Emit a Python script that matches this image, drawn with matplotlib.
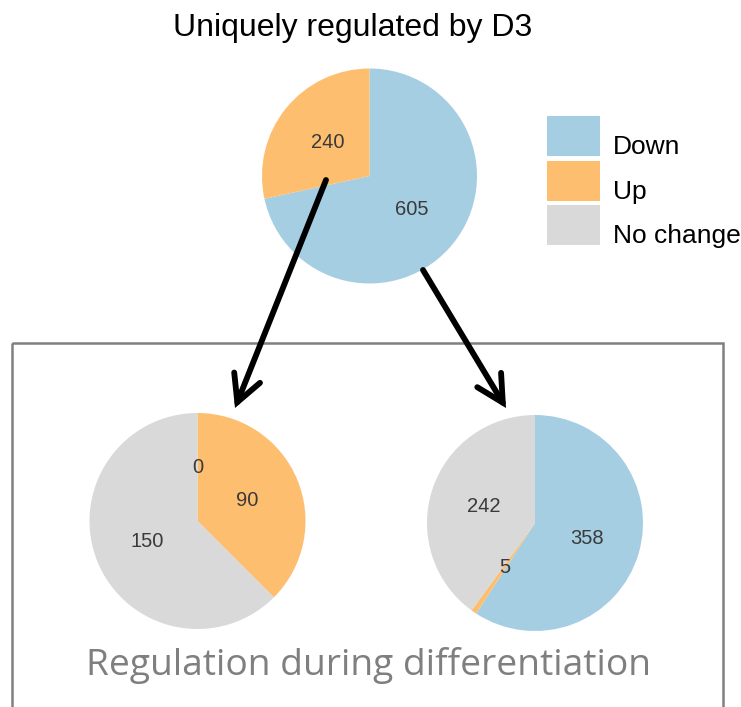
import matplotlib.pyplot as plt
from matplotlib.patches import Rectangle, FancyArrowPatch

# data
categories = ['Down', 'Up', 'No change']
colors = ['#a6cee3', '#fdbf6f', '#d9d9d9']
top_values = [605, 240, 0]
left_values = [0, 90, 150]
right_values = [358, 5, 242]

W, H = 741, 707
fig = plt.figure(figsize=(W / 100, H / 100), dpi=100)
plt.rcParams['font.family'] = ['Liberation Sans', 'DejaVu Sans']


def overlay():
    # axes in pixel coords, y pointing down
    a = fig.add_axes([0, 0, 1, 1])
    a.set_xlim(0, W)
    a.set_ylim(H, 0)
    a.axis('off')
    return a


def pie_at(cx, cy, r, values, show_zero):
    ax = fig.add_axes([(cx - r) / W, (H - cy - r) / H, 2 * r / W, 2 * r / H])
    vals, cols = [], []
    for i, v in enumerate(values):
        if v > 0 or show_zero[i]:
            vals.append(v)
            cols.append(colors[i])
    total = sum(vals)
    ax.pie(vals, colors=cols, startangle=90, counterclock=False,
           autopct=lambda p: '%d' % round(p * total / 100), pctdistance=0.5,
           wedgeprops=dict(linewidth=0), textprops=dict(fontsize=14.5, color='#3a3a3a'))
    ax.set_xlim(-1, 1)
    ax.set_ylim(-1, 1)
    return ax


bg = overlay()
bg.add_patch(Rectangle((12, 343), 711, 400, fill=False, edgecolor='#808080', linewidth=1.8))

pie_at(369.5, 176, 107.5, top_values, [True, True, False])
pie_at(197.5, 521, 108, left_values, [True, True, True])
pie_at(535, 523, 108, right_values, [True, True, True])

fg = overlay()
fg.text(353, 28, 'Uniquely regulated by D3', ha='center', va='center', fontsize=23, color='black')
fg.text(368.5, 665, 'Regulation during differentiation', ha='center', va='center',
        fontsize=26.7, color='#7f7f7f', family=['Open Sans', 'DejaVu Sans'])

# legend
for i, (cat, col) in enumerate(zip(categories, colors)):
    y0 = 116 + i * 44.5
    fg.add_patch(Rectangle((547, y0), 53, 40, facecolor=col, edgecolor='none'))
    fg.text(613, y0 + 31, cat, ha='left', va='center', fontsize=19, color='black')

# arrows
for (x0, y0), (x1, y1) in [((326, 180), (235, 408)), ((423, 270), (506, 408))]:
    fg.add_patch(FancyArrowPatch((x0, y0), (x1, y1), arrowstyle='->,head_length=0.95,head_width=0.5',
                                 mutation_scale=20, linewidth=4.2, color='black',
                                 capstyle='round', joinstyle='miter', shrinkA=0, shrinkB=0))

fig.savefig('out.png', dpi=100)
